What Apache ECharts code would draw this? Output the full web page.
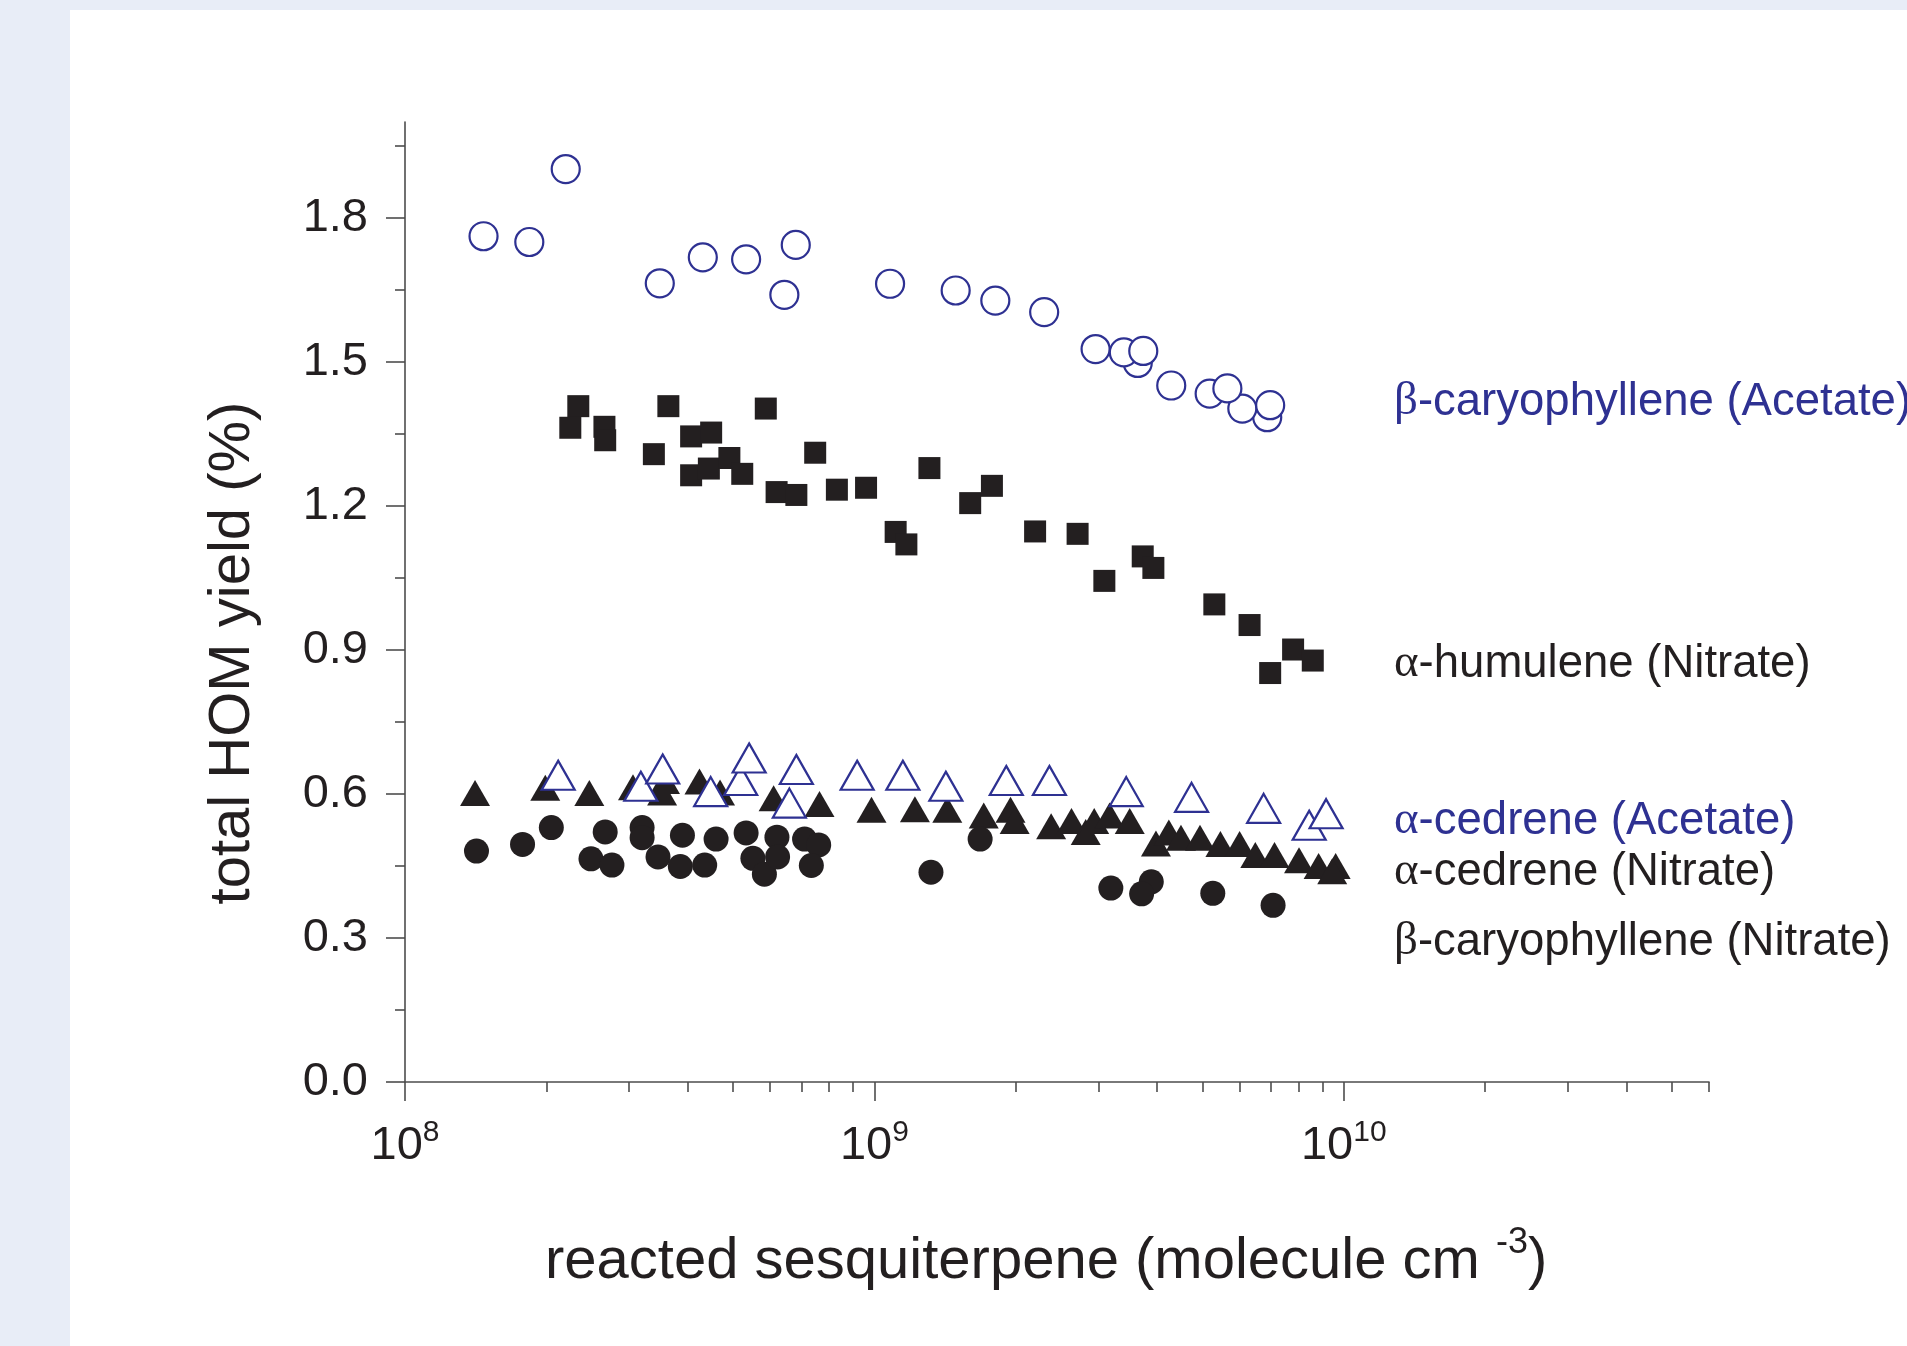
<!DOCTYPE html>
<html>
<head>
<meta charset="utf-8">
<title>total HOM yield vs reacted sesquiterpene</title>
<script src="https://cdn.jsdelivr.net/npm/echarts@6/dist/echarts.min.js"></script>
<style>
  html, body { margin: 0; padding: 0; background: #e8edf7; }
  #panel { position: absolute; left: 70px; top: 10px; right: 0; bottom: 0; background: #ffffff; }
  #chart { position: absolute; left: 0; top: 0; width: 1907px; height: 1346px; }
</style>
</head>
<body>
<div id="panel"></div>
<div id="chart"></div>
<script>
// β-caryophyllene (Acetate) - open circles  [reacted SQT, yield %]
var betaCaryAcetate = [
  [1.47e8, 1.762], [1.84e8, 1.750], [2.20e8, 1.902], [3.49e8, 1.664], [4.31e8, 1.718],
  [5.33e8, 1.714], [6.80e8, 1.744], [6.43e8, 1.640], [1.08e9, 1.663], [1.49e9, 1.649],
  [1.81e9, 1.628], [2.30e9, 1.604], [2.96e9, 1.527], [3.64e9, 1.498], [3.40e9, 1.520],
  [3.74e9, 1.523], [4.29e9, 1.451], [5.18e9, 1.434], [6.87e9, 1.385], [6.08e9, 1.403],
  [5.65e9, 1.445], [6.97e9, 1.410]
];
// α-humulene (Nitrate) - filled squares
var alphaHumuleneNitrate = [
  [2.34e8, 1.408], [2.25e8, 1.363], [2.66e8, 1.365], [2.67e8, 1.337], [3.39e8, 1.308],
  [3.64e8, 1.408], [4.07e8, 1.345], [4.49e8, 1.353], [4.07e8, 1.264], [4.44e8, 1.278],
  [4.91e8, 1.300], [5.23e8, 1.267], [5.87e8, 1.403], [6.19e8, 1.229], [6.82e8, 1.223],
  [7.48e8, 1.311], [8.32e8, 1.234], [9.60e8, 1.238], [1.11e9, 1.146], [1.17e9, 1.120],
  [1.31e9, 1.279], [1.60e9, 1.206], [1.78e9, 1.242], [2.20e9, 1.147], [2.71e9, 1.142],
  [3.09e9, 1.044], [3.73e9, 1.095], [3.93e9, 1.071], [5.30e9, 0.995], [6.30e9, 0.952],
  [7.80e9, 0.901], [8.59e9, 0.878], [6.97e9, 0.852]
];
// α-cedrene (Nitrate) - filled triangles
var alphaCedreneNitrate = [
  [1.41e8, 0.602], [1.99e8, 0.613], [2.47e8, 0.602], [3.06e8, 0.614], [3.53e8, 0.603],
  [3.58e8, 0.627], [4.24e8, 0.626], [4.69e8, 0.603], [6.10e8, 0.591], [7.64e8, 0.579],
  [9.86e8, 0.567], [1.22e9, 0.568], [1.43e9, 0.567], [1.71e9, 0.555], [1.95e9, 0.567],
  [1.99e9, 0.544], [2.38e9, 0.533], [2.63e9, 0.544], [2.82e9, 0.521], [2.94e9, 0.544],
  [3.17e9, 0.555], [3.50e9, 0.544], [3.98e9, 0.497], [4.24e9, 0.520], [4.50e9, 0.509],
  [4.94e9, 0.509], [5.46e9, 0.496], [6.00e9, 0.496], [6.48e9, 0.473], [7.12e9, 0.473],
  [8.03e9, 0.462], [8.84e9, 0.450], [9.61e9, 0.450], [9.45e9, 0.439]
];
// β-caryophyllene (Nitrate) - filled circles
var betaCaryNitrate = [
  [1.42e8, 0.481], [1.78e8, 0.495], [2.05e8, 0.530], [2.67e8, 0.521], [2.49e8, 0.465],
  [2.76e8, 0.452], [3.20e8, 0.530], [3.20e8, 0.509], [3.46e8, 0.469], [3.90e8, 0.514],
  [3.86e8, 0.449], [4.60e8, 0.506], [4.35e8, 0.452], [5.33e8, 0.519], [5.51e8, 0.466],
  [5.83e8, 0.433], [6.20e8, 0.510], [6.22e8, 0.469], [7.10e8, 0.506], [7.61e8, 0.494],
  [7.34e8, 0.451], [1.68e9, 0.506], [1.32e9, 0.437], [3.19e9, 0.404], [3.89e9, 0.417],
  [3.71e9, 0.392], [5.26e9, 0.393], [7.07e9, 0.368]
];
// α-cedrene (Acetate) - open triangles
var alphaCedreneAcetate = [
  [2.12e8, 0.639], [3.18e8, 0.616], [3.54e8, 0.652], [4.48e8, 0.605], [5.19e8, 0.628],
  [5.41e8, 0.675], [6.59e8, 0.581], [6.82e8, 0.651], [9.19e8, 0.639], [1.15e9, 0.639],
  [1.42e9, 0.616], [1.91e9, 0.628], [2.36e9, 0.628], [3.44e9, 0.605], [4.74e9, 0.593],
  [6.75e9, 0.570], [8.44e9, 0.535], [9.17e9, 0.559]
];

// axis ticks
var xMin = 1e8, xMax = 6e10;
var majorXTicks = [1e8, 1e9, 1e10];
var minorXTicks = [2e8, 3e8, 4e8, 5e8, 6e8, 7e8, 8e8, 9e8,
                   2e9, 3e9, 4e9, 5e9, 6e9, 7e9, 8e9, 9e9,
                   2e10, 3e10, 4e10, 5e10, 6e10];
var majorYTicks = [0, 0.3, 0.6, 0.9, 1.2, 1.5, 1.8];
var minorYTicks = [0.15, 0.45, 0.75, 1.05, 1.35, 1.65, 1.95];

var seriesLabels = [
  { text: '{g|β}-caryophyllene (Acetate)', y: 402, blue: true },
  { text: '{g|α}-humulene (Nitrate)', y: 664, blue: false },
  { text: '{g|α}-cedrene (Acetate)', y: 821, blue: true },
  { text: '{g|α}-cedrene (Nitrate)', y: 872, blue: false },
  { text: '{g|β}-caryophyllene (Nitrate)', y: 942, blue: false }
];

var BLUE = '#2e3192';
var INK = '#231f20';
var AXIS = '#4d4d4d';
var SANS = '"Liberation Sans", Arial, Helvetica, sans-serif';
var SERIF = '"Liberation Serif", "DejaVu Serif", serif';

function lg(v) { return Math.log10(v); }

var chart = echarts.init(document.getElementById('chart'), null, { renderer: 'canvas' });

var labelGraphics = seriesLabels.map(function (s) {
  return {
    type: 'text',
    x: 1394,
    y: s.y,
    style: {
      text: s.text,
      fill: s.blue ? BLUE : INK,
      fontFamily: SANS,
      fontSize: 45.5,
      align: 'left',
      verticalAlign: 'middle',
      rich: { g: { fontFamily: SERIF, fontSize: 47, fill: s.blue ? BLUE : INK } }
    }
  };
});

var option = {
  animation: false,
  backgroundColor: 'transparent',
  grid: { left: 405, right: 198, top: 122, bottom: 264 },
  xAxis: [
    {
      type: 'log', logBase: 10, min: xMin, max: xMax, position: 'bottom',
      axisLine: { show: true, onZero: false, lineStyle: { color: AXIS, width: 1.6 } },
      axisTick: { show: false }, axisLabel: { show: false },
      splitLine: { show: false }, minorTick: { show: false }
    },
    {
      type: 'value', min: lg(xMin), max: lg(xMax), position: 'bottom',
      axisLine: { show: false, onZero: false },
      axisTick: { show: true, length: 19, customValues: majorXTicks.map(lg),
                  lineStyle: { color: AXIS, width: 1.6 } },
      axisLabel: {
        customValues: majorXTicks.map(lg), margin: 36, color: INK,
        formatter: function (v) { return '{b|10}{s|' + Math.round(v) + '}'; },
        rich: {
          b: { fontFamily: SANS, fontSize: 47, color: INK, verticalAlign: 'bottom', lineHeight: 52 },
          s: { fontFamily: SANS, fontSize: 30, color: INK, verticalAlign: 'top', lineHeight: 28 }
        }
      },
      splitLine: { show: false }
    },
    {
      type: 'value', min: lg(xMin), max: lg(xMax), position: 'bottom',
      axisLine: { show: false, onZero: false },
      axisTick: { show: true, length: 10, customValues: minorXTicks.map(lg),
                  lineStyle: { color: AXIS, width: 1.6 } },
      axisLabel: { show: false },
      splitLine: { show: false }
    }
  ],
  yAxis: [
    {
      type: 'value', min: 0, max: 2, position: 'left',
      axisLine: { show: true, onZero: false, lineStyle: { color: AXIS, width: 1.6 } },
      axisTick: { show: true, length: 19, customValues: majorYTicks,
                  lineStyle: { color: AXIS, width: 1.6 } },
      axisLabel: {
        customValues: majorYTicks, margin: 37, color: INK,
        fontFamily: SANS, fontSize: 47,
        formatter: function (v) { return v.toFixed(1); }
      },
      splitLine: { show: false }
    },
    {
      type: 'value', min: 0, max: 2, position: 'left',
      axisLine: { show: false, onZero: false },
      axisTick: { show: true, length: 10, customValues: minorYTicks,
                  lineStyle: { color: AXIS, width: 1.6 } },
      axisLabel: { show: false },
      splitLine: { show: false }
    }
  ],
  graphic: [
    {
      type: 'text', x: 233, y: 653, rotation: Math.PI / 2,
      style: {
        text: 'total HOM yield (%)', fill: INK, fontFamily: SANS, fontSize: 58,
        align: 'center', verticalAlign: 'middle'
      }
    },
    {
      type: 'text', x: 545, y: 1258,
      style: {
        text: '{t|reacted sesquiterpene (molecule cm }{s|-3}{t|)}',
        fill: INK, align: 'left', verticalAlign: 'middle',
        rich: {
          t: { fontFamily: SANS, fontSize: 58, fill: INK, verticalAlign: 'bottom', lineHeight: 66 },
          s: { fontFamily: SANS, fontSize: 36, fill: INK, verticalAlign: 'top', lineHeight: 34 }
        }
      }
    }
  ].concat(labelGraphics),
  series: [
    {
      name: 'β-caryophyllene (Acetate)', type: 'scatter', data: betaCaryAcetate,
      symbol: 'circle', symbolSize: 28,
      itemStyle: { color: '#ffffff', borderColor: BLUE, borderWidth: 2.2, opacity: 1 }
    },
    {
      name: 'α-humulene (Nitrate)', type: 'scatter', data: alphaHumuleneNitrate,
      symbol: 'rect', symbolSize: 22,
      itemStyle: { color: INK, opacity: 1 }
    },
    {
      name: 'α-cedrene (Nitrate)', type: 'scatter', data: alphaCedreneNitrate,
      symbol: 'triangle', symbolSize: [30, 26],
      itemStyle: { color: INK, opacity: 1 }
    },
    {
      name: 'β-caryophyllene (Nitrate)', type: 'scatter', data: betaCaryNitrate,
      symbol: 'circle', symbolSize: 25,
      itemStyle: { color: INK, opacity: 1 }
    },
    {
      name: 'α-cedrene (Acetate)', type: 'scatter', data: alphaCedreneAcetate,
      symbol: 'triangle', symbolSize: [33, 29],
      itemStyle: { color: '#ffffff', borderColor: BLUE, borderWidth: 2.2, opacity: 1 }
    }
  ]
};

chart.setOption(option);
</script>
</body>
</html>
